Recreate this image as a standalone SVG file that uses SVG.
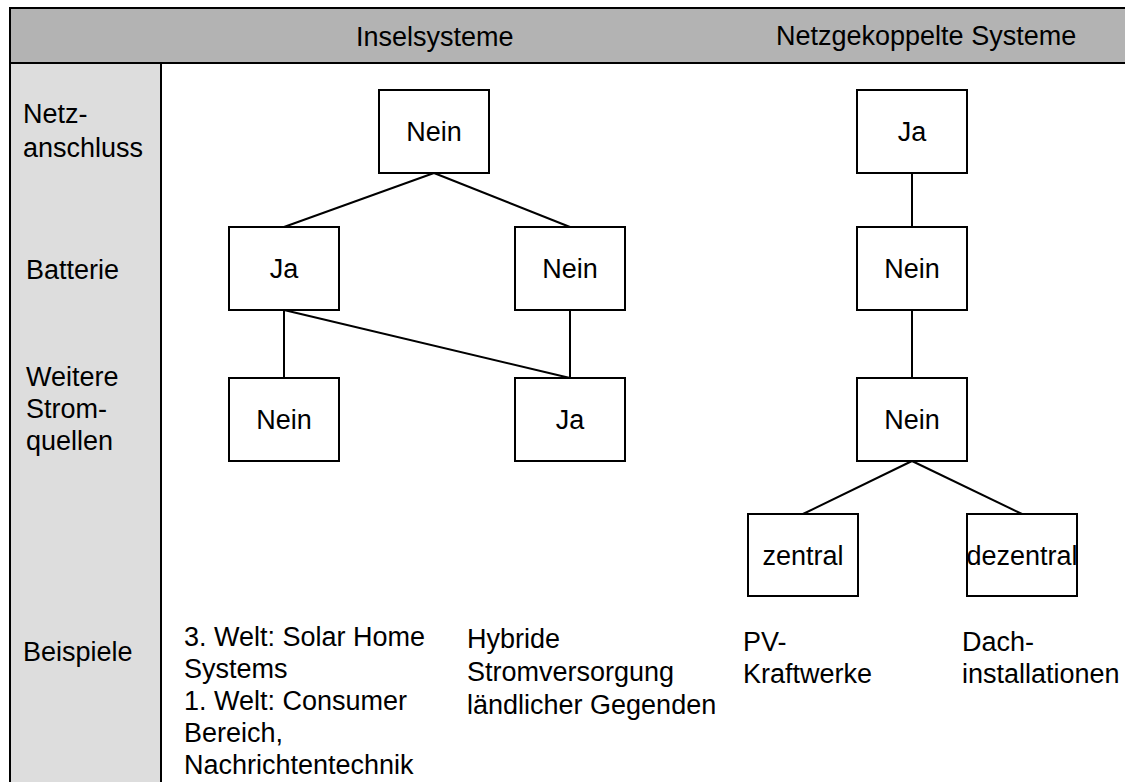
<svg xmlns="http://www.w3.org/2000/svg" width="1125" height="782" viewBox="0 0 1125 782">
<style>
text{font-family:"Liberation Sans",Arial,sans-serif;font-size:27px;fill:#000}
.c{text-anchor:middle}
.box{fill:#fff;stroke:#000;stroke-width:2}
.ln{stroke:#000;stroke-width:2;fill:none}
</style>
<rect width="1125" height="782" fill="#fff"/>
<g id="frame">
<rect x="10" y="8" width="1130" height="55" fill="#b3b3b3" stroke="#000" stroke-width="2"/>
<rect x="10" y="63" width="151" height="730" fill="#dddddd" stroke="#000" stroke-width="2"/>
<text x="356" y="46">Inselsysteme</text>
<text x="776" y="45">Netzgekoppelte Systeme</text>
</g>
<g id="row-labels">
<text x="23" y="123">Netz-</text>
<text x="23" y="157">anschluss</text>
<text x="26" y="279">Batterie</text>
<text x="26" y="386">Weitere</text>
<text x="26" y="418">Strom-</text>
<text x="26" y="450">quellen</text>
<text x="23" y="661">Beispiele</text>
</g>
<g id="connectors">
<line class="ln" x1="434" y1="173" x2="284" y2="227"/>
<line class="ln" x1="434" y1="173" x2="570" y2="227"/>
<line class="ln" x1="284" y1="310" x2="284" y2="378"/>
<line class="ln" x1="284" y1="310" x2="570" y2="378"/>
<line class="ln" x1="570" y1="310" x2="570" y2="378"/>
<line class="ln" x1="912" y1="173" x2="912" y2="227"/>
<line class="ln" x1="912" y1="310" x2="912" y2="378"/>
<line class="ln" x1="912" y1="461" x2="803" y2="514"/>
<line class="ln" x1="912" y1="461" x2="1022" y2="514"/>
</g>
<g id="n-insel-netz"><rect class="box" x="379" y="90" width="110" height="83"/><text class="c" x="434" y="141">Nein</text></g>
<g id="n-insel-batt-ja"><rect class="box" x="229" y="227" width="110" height="83"/><text class="c" x="284" y="278">Ja</text></g>
<g id="n-insel-batt-nein"><rect class="box" x="515" y="227" width="110" height="83"/><text class="c" x="570" y="278">Nein</text></g>
<g id="n-insel-weitere-nein"><rect class="box" x="229" y="378" width="110" height="83"/><text class="c" x="284" y="429">Nein</text></g>
<g id="n-insel-weitere-ja"><rect class="box" x="515" y="378" width="110" height="83"/><text class="c" x="570" y="429">Ja</text></g>
<g id="n-netz-ja"><rect class="box" x="857" y="90" width="110" height="83"/><text class="c" x="912" y="141">Ja</text></g>
<g id="n-netz-batt"><rect class="box" x="857" y="227" width="110" height="83"/><text class="c" x="912" y="278">Nein</text></g>
<g id="n-netz-weitere"><rect class="box" x="857" y="378" width="110" height="83"/><text class="c" x="912" y="429">Nein</text></g>
<g id="n-zentral"><rect class="box" x="748" y="514" width="110" height="82"/><text class="c" x="803" y="565">zentral</text></g>
<g id="n-dezentral"><rect class="box" x="967" y="514" width="110" height="82"/><text class="c" x="1022" y="565">dezentral</text></g>
<g id="examples">
<text x="184" y="646">3. Welt: Solar Home</text>
<text x="184" y="678">Systems</text>
<text x="184" y="710">1. Welt: Consumer</text>
<text x="184" y="742">Bereich,</text>
<text x="184" y="774">Nachrichtentechnik</text>
<text x="467" y="648">Hybride</text>
<text x="467" y="681">Stromversorgung</text>
<text x="467" y="714">ländlicher Gegenden</text>
<text x="743" y="651">PV-</text>
<text x="743" y="683">Kraftwerke</text>
<text x="962" y="651">Dach-</text>
<text x="962" y="683">installationen</text>
</g>
</svg>
